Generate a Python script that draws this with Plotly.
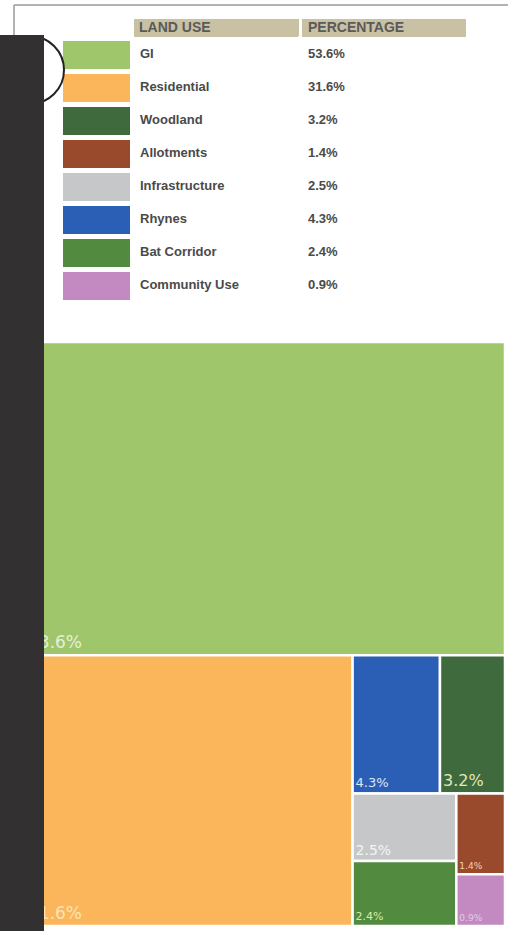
import plotly.graph_objects as go

# ---- data ----
land_use = ["GI", "Residential", "Woodland", "Allotments", "Infrastructure",
            "Rhynes", "Bat Corridor", "Community Use"]
percentage = [53.6, 31.6, 3.2, 1.4, 2.5, 4.3, 2.4, 0.9]
pct_labels = ["53.6%", "31.6%", "3.2%", "1.4%", "2.5%", "4.3%", "2.4%", "0.9%"]
header_labels = ["LAND USE", "PERCENTAGE"]

# ---- styles ----
colors = ["#9fc66b", "#fbb65b", "#3f6a3d", "#994a2c", "#c6c7c9",
          "#2b5fb5", "#528a40", "#c28ac0"]
text_colors = ["#e6efd9", "#fbe3b8", "#e2e6b8", "#f5cdb5", "#f4f4f4",
               "#dce6f5", "#d9eaa5", "#e6cbe6"]
text_sizes = [17, 17, 16, 9, 14, 13, 11, 9]

W, H = 508, 931
def X(px):
    return px / W
def Y(py):
    return 1 - py / H

fig = go.Figure()

fig.add_trace(go.Treemap(
    labels=land_use,
    parents=[""] * len(land_use),
    values=percentage,
    text=pct_labels,
    texttemplate="%{text}",
    textposition="bottom left",
    textfont=dict(family="DejaVu Sans", size=text_sizes, color=text_colors),
    marker=dict(colors=colors, line=dict(color="white", width=2.5), pad=dict(t=0, l=0, r=0, b=0)),
    tiling=dict(packing="squarify", squarifyratio=1.2, pad=0),
    pathbar=dict(visible=False),
    branchvalues="remainder",
    sort=True,
    hoverinfo="skip",
    domain=dict(x=[X(25), X(505)], y=[Y(926), Y(342)]),
))

fig.add_trace(go.Table(
    domain=dict(x=[X(60), X(467)], y=[Y(305), Y(17)]),
    columnwidth=[72, 168, 167],
    header=dict(
        values=["", "", ""],
        fill=dict(color=["white", "#c9c1a3", "#c9c1a3"]),
        line=dict(color="white", width=3),
        font=dict(family="Liberation Sans", size=8, color="#555555"),
        align="left",
        height=21,
    ),
    cells=dict(
        values=[[""] * len(land_use),
                ["<b>" + s + "</b>" for s in land_use],
                ["<b>" + s + "</b>" for s in pct_labels]],
        fill=dict(color=[colors, ["white"] * len(land_use), ["white"] * len(land_use)]),
        line=dict(color="white", width=5),
        font=dict(family="Liberation Sans", size=13, color="#4a4a4a"),
        align="left",
        height=33,
    ),
))

# header texts of the legend table
header_x = [137, 306]
annotations = [
    dict(text="<b>" + h + "</b>", x=X(hx), y=Y(27), xref="paper", yref="paper",
         xanchor="left", yanchor="middle", showarrow=False,
         font=dict(family="Liberation Sans", size=14, color="#5a5a5a"))
    for h, hx in zip(header_labels, header_x)
]

shapes = [
    # frame lines
    dict(type="line", xref="paper", yref="paper", x0=X(14), x1=X(510), y0=Y(5), y1=Y(5),
         line=dict(color="#9a9a9a", width=1.5)),
    dict(type="line", xref="paper", yref="paper", x0=X(14), x1=X(14), y0=Y(5), y1=Y(40),
         line=dict(color="#9a9a9a", width=1.5)),
    # circle partly hidden
    dict(type="circle", xref="paper", yref="paper", x0=X(-4), x1=X(64), y0=Y(104), y1=Y(36),
         line=dict(color="#222222", width=2), fillcolor="rgba(0,0,0,0)"),
    # dark side bar
    dict(type="rect", xref="paper", yref="paper", x0=X(-2), x1=X(44), y0=-0.01, y1=Y(35),
         fillcolor="#333031", line=dict(width=0)),
]

fig.update_layout(
    width=W, height=H,
    margin=dict(l=0, r=0, t=0, b=0),
    paper_bgcolor="white",
    plot_bgcolor="white",
    shapes=shapes,
    annotations=annotations,
    showlegend=False,
)

fig.write_html("out.html",
               config={"displayModeBar": False},
               post_script="document.body.style.margin='0';document.body.style.overflow='hidden';")
